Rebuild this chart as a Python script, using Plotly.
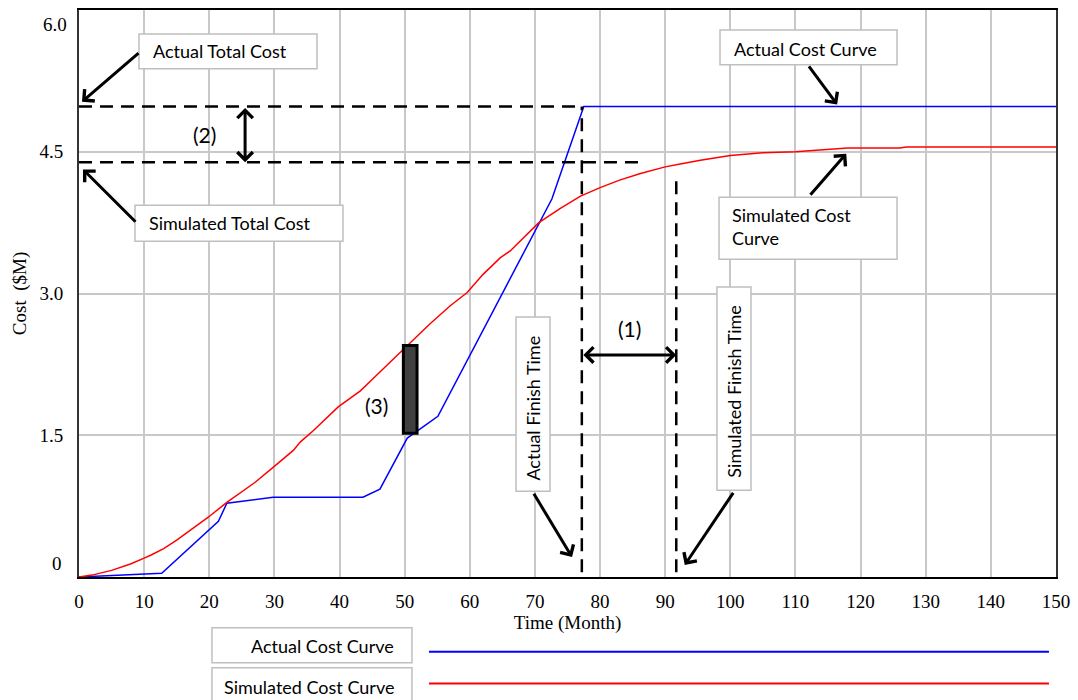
import plotly.graph_objects as go

# Actual cumulative cost ($M) by month
actual_month = [0, 12.7, 21.4, 22.7, 29.8, 43.6, 46.2, 50.4, 55.1, 72.6, 77.5, 150]
actual_cost = [0, 0.04, 0.59, 0.78, 0.845, 0.845, 0.93, 1.47, 1.70, 4.00, 4.98, 4.98]

# Simulated cumulative cost ($M) by month
sim_month = [0, 2, 5, 7, 8, 10, 11, 13, 15, 17, 19.8, 22.7, 25.8, 27, 29.8, 32.9, 34,
             36, 39.8, 43.2, 45, 50, 53.9, 57, 59.6, 62, 64.7, 66.2, 70.6, 73.9, 77,
             80, 83, 86.2, 90, 92.3, 95.4, 100, 105, 110, 114, 118, 126, 127, 150]
sim_cost = [0, 0.02, 0.07, 0.12, 0.14, 0.20, 0.23, 0.30, 0.39, 0.49, 0.63, 0.79, 0.94, 1.00,
            1.16, 1.34, 1.43, 1.55, 1.80, 1.97, 2.09, 2.42, 2.68, 2.87, 3.01, 3.20, 3.38,
            3.45, 3.75, 3.90, 4.03, 4.12, 4.20, 4.27, 4.34, 4.37, 4.41, 4.46, 4.49, 4.50,
            4.52, 4.54, 4.54, 4.55, 4.55]

# Reference levels marked on the chart
actual_total = 4.98
simulated_total = 4.39
actual_finish = 77.2
simulated_finish = 91.7
sim_total_guide_end = 86.2
sim_finish_guide_top = 4.27
guide_bottom = 0.05

# Cost gap highlighted at month ~50
gap_month = [49.8, 51.9]
gap_cost = [1.52, 2.45]

x_ticks = list(range(0, 151, 10))
y_ticks = [0, 1.5, 3.0, 4.5, 6.0]
y_tick_text = ["0", "1.5", "3.0", "4.5", "6.0"]

BLUE = "#0000ff"
RED = "#ff0000"
GRID = "#c8c8c8"
BOX_EDGE = "#bfbfbf"
SERIF = "Liberation Serif"
SANS = "Lato"

fig = go.Figure()

fig.add_trace(go.Scatter(x=actual_month, y=actual_cost, mode="lines",
                         line=dict(color=BLUE, width=1.5), name="Actual Cost Curve",
                         showlegend=False, hoverinfo="x+y"))
fig.add_trace(go.Scatter(x=sim_month, y=sim_cost, mode="lines",
                         line=dict(color=RED, width=1.5), name="Simulated Cost Curve",
                         showlegend=False, hoverinfo="x+y"))

# Dashed guide lines for totals and finish times
guide = dict(color="black", width=2.5, dash="13px,8px")
guides = [
    ([0, actual_finish], [actual_total, actual_total]),
    ([0, sim_total_guide_end], [simulated_total, simulated_total]),
    ([actual_finish, actual_finish], [guide_bottom, actual_total]),
    ([simulated_finish, simulated_finish], [guide_bottom, sim_finish_guide_top]),
]
for gx, gy in guides:
    fig.add_trace(go.Scatter(x=gx, y=gy, mode="lines", line=guide,
                             showlegend=False, hoverinfo="skip"))

shapes = []
# Gap bar (3)
shapes.append(dict(type="rect", xref="x", yref="y", x0=gap_month[0], x1=gap_month[1],
                   y0=gap_cost[0], y1=gap_cost[1], fillcolor="#404040",
                   line=dict(color="black", width=3), layer="above"))


def box(x0, x1, y0, y1):
    return dict(type="rect", xref="paper", yref="paper", x0=x0, x1=x1, y0=y0, y1=y1,
                fillcolor="white", line=dict(color=BOX_EDGE, width=1.5), layer="above")


# Callout boxes
shapes += [
    box(0.0614, 0.2436, 0.8963, 0.9578),   # Actual Total Cost
    box(0.0573, 0.2702, 0.5923, 0.6555),   # Simulated Total Cost
    box(0.6561, 0.8373, 0.9033, 0.9649),   # Actual Cost Curve
    box(0.6551, 0.8373, 0.5606, 0.6696),   # Simulated Cost Curve
    box(0.4473, 0.4821, 0.1511, 0.4587),   # Actual Finish Time
    box(0.6530, 0.6878, 0.1529, 0.5114),   # Simulated Finish Time
    # key below the axis
    box(0.1361, 0.3408, -0.1511, -0.0896),
    box(0.1361, 0.3408, -0.2250, -0.1599),
]
shapes += [
    dict(type="line", xref="paper", yref="paper", x0=0.3582, x1=0.9928, y0=-0.1318, y1=-0.1318,
         line=dict(color=BLUE, width=2)),
    dict(type="line", xref="paper", yref="paper", x0=0.3582, x1=0.9928, y0=-0.1880, y1=-0.1880,
         line=dict(color=RED, width=2)),
]

annotations = []


def text_at(txt, x, y, xanchor="left", angle=0, size=18):
    annotations.append(dict(text=txt, xref="paper", yref="paper", x=x, y=y,
                            xanchor=xanchor, yanchor="middle", showarrow=False,
                            textangle=angle, align="left",
                            font=dict(family=SANS, size=size, color="black")))


text_at("Actual Total Cost", 0.0737, 0.927)
text_at("Simulated Total Cost", 0.0696, 0.6239)
text_at("Actual Cost Curve", 0.6684, 0.9315)
text_at("Simulated Cost<br>Curve", 0.6663, 0.6178)
text_at("Actual Finish Time", 0.4647, 0.297, xanchor="center", angle=-90)
text_at("Simulated Finish Time", 0.6704, 0.3269, xanchor="center", angle=-90)
text_at("Actual Cost Curve", 0.3245, -0.1213, xanchor="right")
text_at("Simulated Cost Curve", 0.3245, -0.1933, xanchor="right")


def arrow(x, y, ax, ay, both=False):
    a = dict(text="", xref="x", yref="y", axref="x", ayref="y", x=x, y=y, ax=ax, ay=ay,
             showarrow=True, arrowhead=4, arrowsize=1, arrowwidth=3, arrowcolor="black")
    if both:
        a.update(arrowside="end+start", startarrowhead=4, startarrowsize=1)
    annotations.append(a)


arrow(0.46, 5.03, 9.37, 5.557)       # -> actual total cost
arrow(0.61, 4.313, 8.9, 3.744)       # -> simulated total cost
arrow(116.4, 5.0, 111.9, 5.42)       # -> actual cost curve
arrow(117.8, 4.48, 112.1, 4.03)      # -> simulated cost curve
arrow(75.7, 0.211, 69.7, 0.896)      # -> actual finish time
arrow(93.0, 0.127, 100.6, 0.907)     # -> simulated finish time
# (1) schedule gap, (2) cost gap
arrow(simulated_finish, 2.35, actual_finish, 2.35, both=True)
arrow(25.5, simulated_total, 25.5, actual_total, both=True)

for lbl, lx, ly in [("(1)", (actual_finish + simulated_finish) / 2, 2.63),
                    ("(2)", 19.3, (actual_total + simulated_total) / 2),
                    ("(3)", 45.6, 1.81)]:
    annotations.append(dict(text=lbl, xref="x", yref="y", x=lx, y=ly, showarrow=False,
                            font=dict(family=SANS, size=21, color="black")))

# End tick labels on the cost axis sit inside the axis span
annotations.append(dict(text=y_tick_text[0], xref="paper", yref="y", x=0, y=y_ticks[0],
                        xanchor="center", xshift=-22, yshift=14, showarrow=False,
                        font=dict(family=SERIF, size=19, color="black")))
annotations.append(dict(text=y_tick_text[-1], xref="paper", yref="y", x=0, y=y_ticks[-1],
                        xanchor="right", xshift=-10, yshift=-14, showarrow=False,
                        font=dict(family=SERIF, size=19, color="black")))

fig.update_layout(
    width=1078, height=700,
    margin=dict(l=79, r=21, t=8, b=123),
    paper_bgcolor="white", plot_bgcolor="white",
    font=dict(family=SERIF, size=19, color="black"),
    shapes=shapes, annotations=annotations,
    showlegend=False,
)
fig.update_xaxes(range=[0, 150], tickvals=x_ticks, showgrid=True, gridcolor=GRID,
                 gridwidth=1.5, zeroline=False, showline=True, linecolor="black",
                 linewidth=2, mirror=True, ticks="", ticklabelstandoff=6,
                 title=dict(text="Time (Month)", standoff=2, font=dict(family=SERIF, size=19)))
fig.update_yaxes(range=[0, 6], tickvals=y_ticks,
                 ticktext=[""] + y_tick_text[1:-1] + [""],
                 showgrid=True, gridcolor=GRID, gridwidth=1.5, zeroline=False,
                 showline=True, linecolor="#333333", linewidth=2, mirror=True,
                 ticks="", ticklabelstandoff=10,
                 title=dict(text="Cost\u00a0\u00a0($M)", standoff=8,
                            font=dict(family=SERIF, size=19)))

fig.write_html("out.html")
